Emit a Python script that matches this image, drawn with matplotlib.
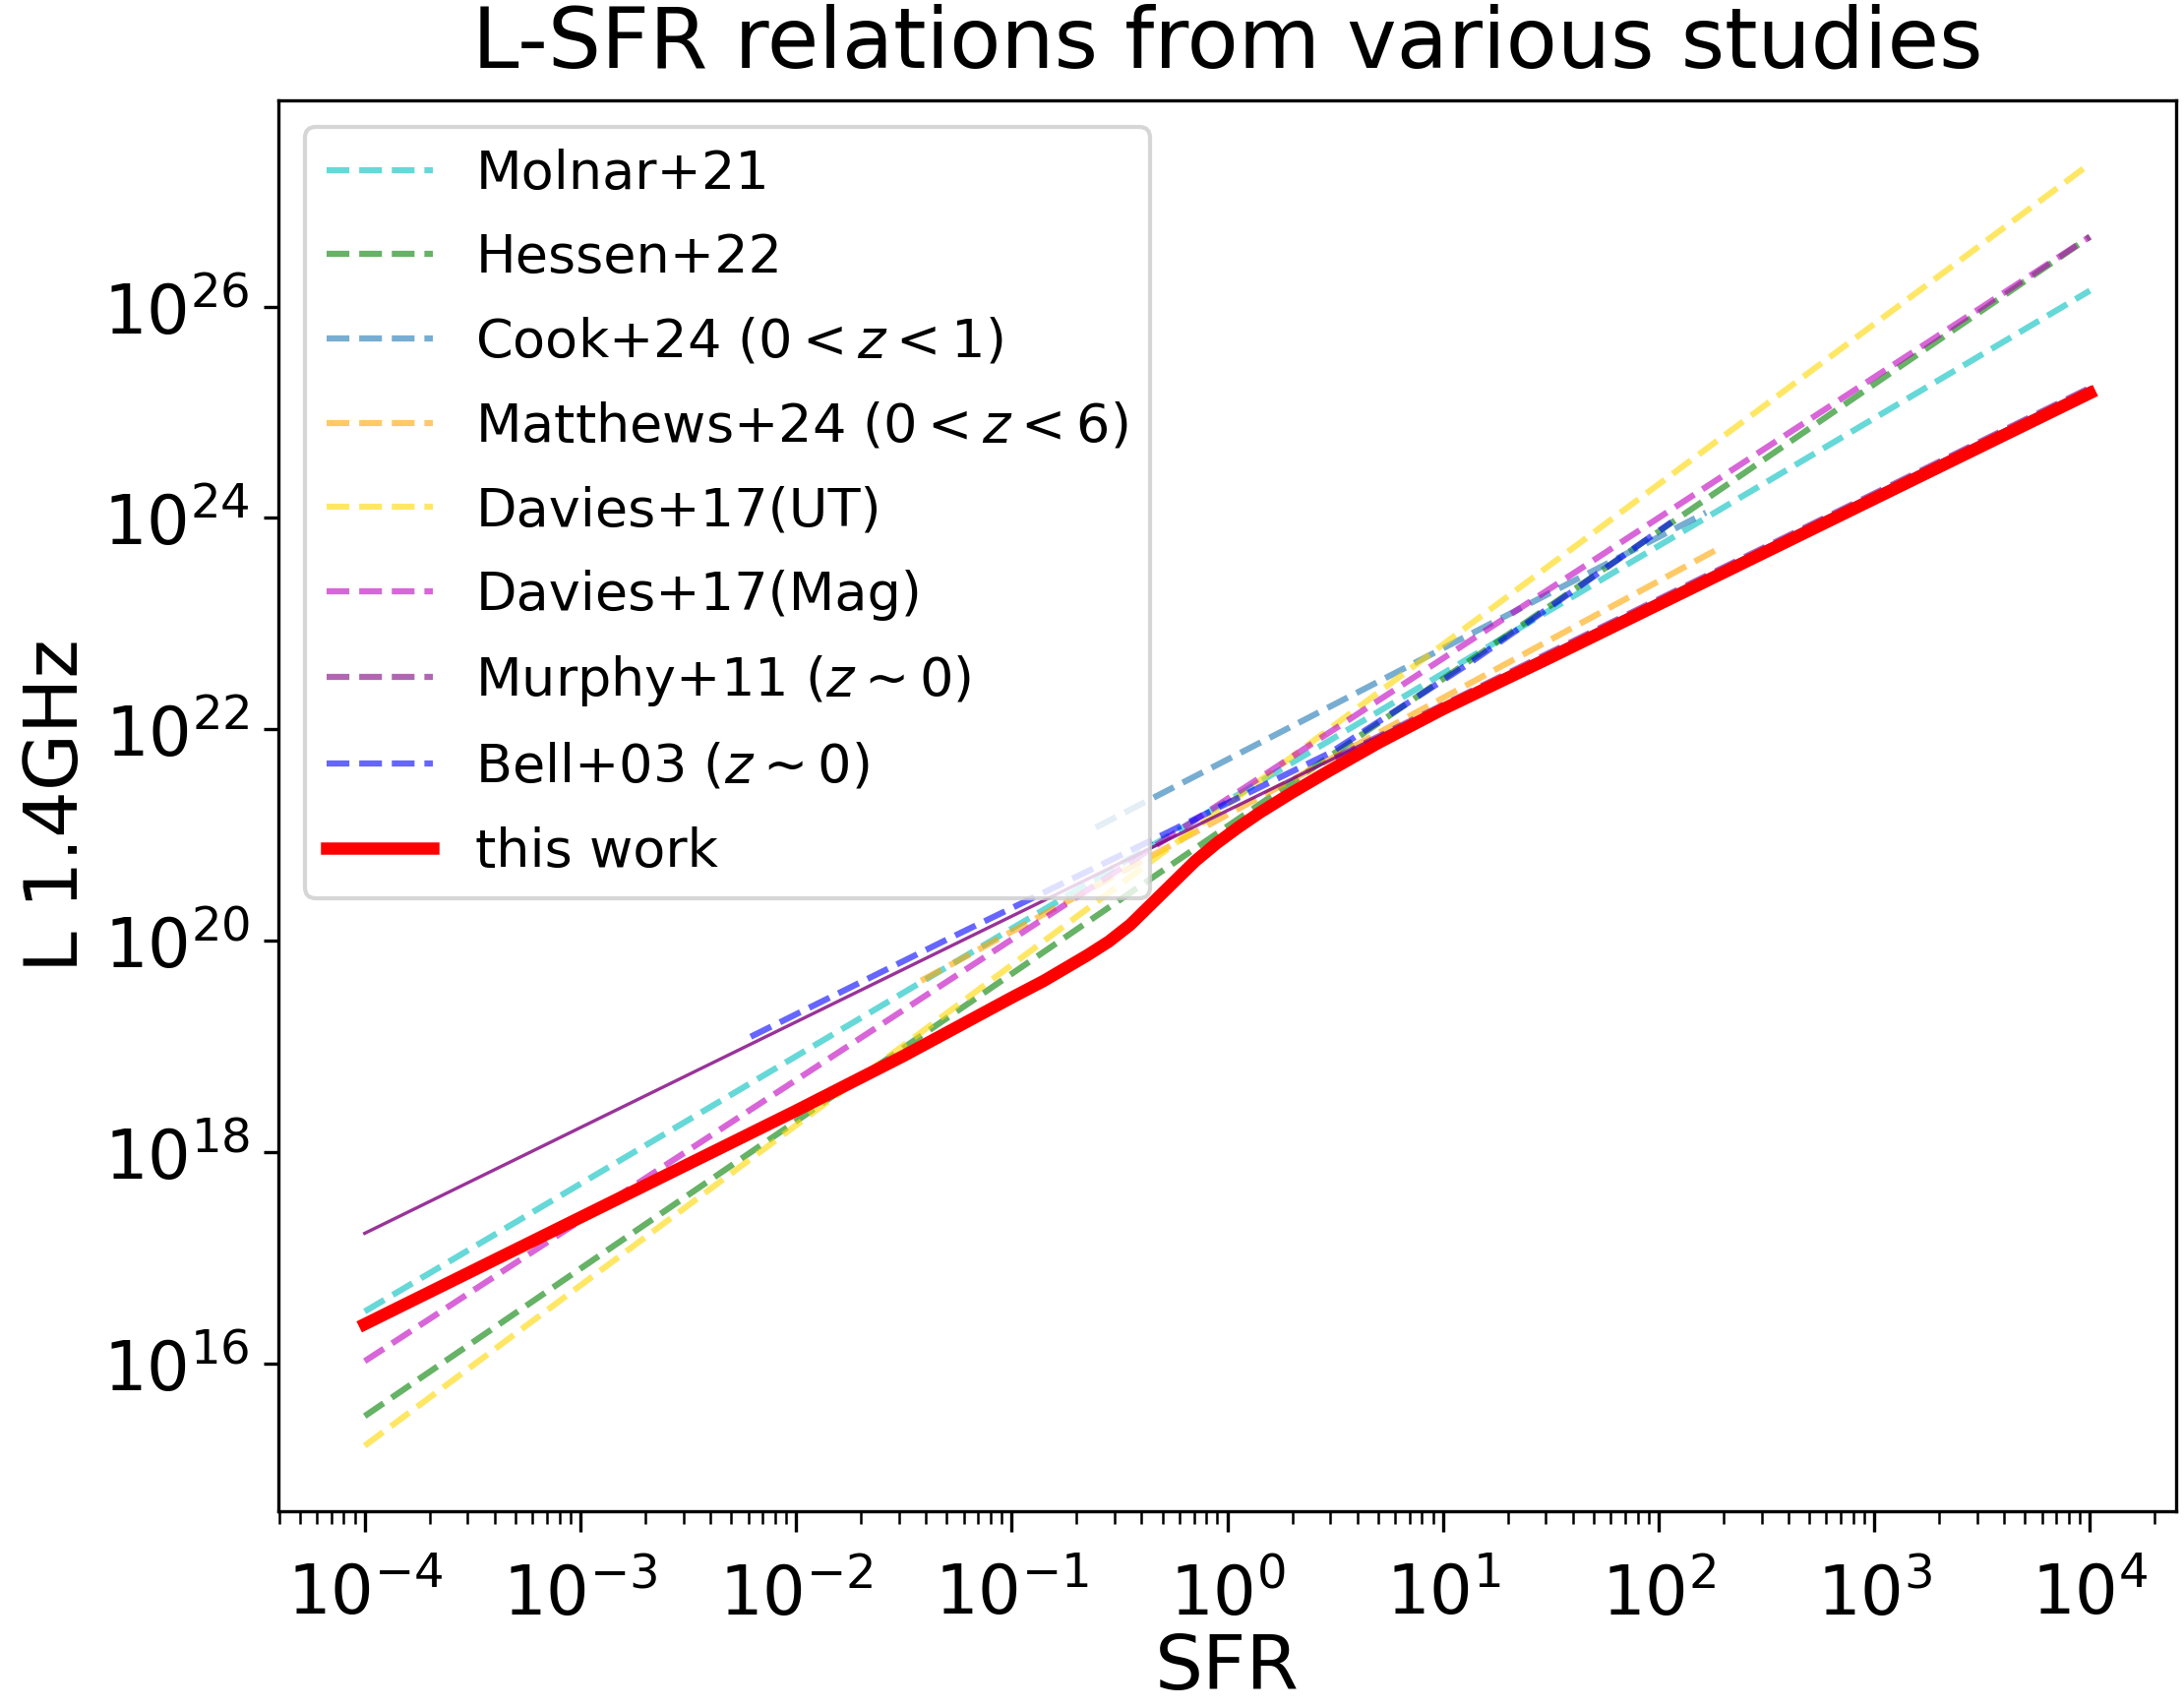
import numpy as np
import matplotlib
matplotlib.use("Agg")
import matplotlib.pyplot as plt

# log10 values: (log SFR, log L) pairs
molnar_logsfr = [-4.0, 4.0]
molnar_logl = [16.49, 26.15]
hessen_logsfr = [-4.0, 4.0]
hessen_logl = [15.50, 26.66]
cook_logsfr = [-0.61, 2.22]
cook_logl = [21.07, 24.05]
matthews_logsfr = [-1.42, 2.27]
matthews_logl = [19.62, 23.70]
davies_ut_logsfr = [-4.0, 4.0]
davies_ut_logl = [15.22, 27.35]
davies_mag_logsfr = [-4.0, 4.0]
davies_mag_logl = [16.02, 26.66]
murphy_logsfr = [0.5, 4.0]
murphy_logl = [21.73, 25.23]
bell_logsfr = [-2.21, -1.28, -0.29, 0.30, 0.48, 1.12, 2.06]
bell_logl = [19.09, 20.03, 21.01, 21.60, 21.78, 22.62, 23.96]
thin_logsfr = [-4.0, 4.0]
thin_logl = [17.23, 25.23]
this_logsfr = [-4.0, -3.0, -2.0, -1.5, -1.0, -0.85, -0.75, -0.65, -0.55, -0.45,
               -0.35, -0.25, -0.15, -0.05, 0.05, 0.15, 0.3, 0.45, 0.7, 1.0,
               1.5, 2.0, 3.0, 4.0]
this_logl = [16.37, 17.38, 18.39, 18.91, 19.46, 19.62, 19.74, 19.86, 19.99, 20.15,
             20.35, 20.55, 20.75, 20.92, 21.07, 21.21, 21.40, 21.58, 21.87, 22.19,
             22.68, 23.18, 24.18, 25.18]


def pw(v):
    return 10.0 ** np.asarray(v)


fig = plt.figure(figsize=(7.4, 5.7867), dpi=300)
ax = fig.add_axes([0.1275, 0.1152, 0.8689, 0.826])

A = 0.6
ax.plot(pw(molnar_logsfr), pw(molnar_logl), "--", color="c", alpha=A, label="Molnar+21")
ax.plot(pw(hessen_logsfr), pw(hessen_logl), "--", color="green", alpha=A, label="Hessen+22")
ax.plot(pw(cook_logsfr), pw(cook_logl), "--", color="tab:blue", alpha=A,
        label="Cook+24 ($0<z<1$)")
ax.plot(pw(matthews_logsfr), pw(matthews_logl), "--", color="orange", alpha=A,
        label="Matthews+24 ($0<z<6$)")
ax.plot(pw(davies_ut_logsfr), pw(davies_ut_logl), "--", color="gold", alpha=A,
        label="Davies+17(UT)")
ax.plot(pw(davies_mag_logsfr), pw(davies_mag_logl), "--", color="m", alpha=A,
        label="Davies+17(Mag)")
ax.plot(pw(murphy_logsfr), pw(murphy_logl), "--", color="purple", alpha=A,
        label=r"Murphy+11 ($z\sim0$)")
ax.plot(pw(thin_logsfr), pw(thin_logl), "-", color="purple", lw=0.8, alpha=0.8)
ax.plot(pw(bell_logsfr), pw(bell_logl), "--", color="blue", alpha=A,
        label=r"Bell+03 ($z\sim0$)")
ax.plot(pw(this_logsfr), pw(this_logl), "-", color="red", lw=3, label="this work")

ax.set_xscale("log")
ax.set_yscale("log")
ax.set_xlim(10 ** -4.4, 10 ** 4.4)
ax.set_ylim(10 ** 14.6, 10 ** 27.95)
ax.set_yticks([10.0 ** k for k in range(16, 27, 2)])
ax.tick_params(labelsize=16.5)
ax.tick_params(axis="x", which="major", length=5, pad=7.3)
ax.tick_params(axis="x", which="minor", length=3)
ax.set_xlabel("SFR", fontsize=18.5, labelpad=1)
ax.set_ylabel("L 1.4GHz", fontsize=18, labelpad=2.5)
ax.set_title("L-SFR relations from various studies", fontsize=20.5, pad=8)
ax.legend(loc="upper left", fontsize=13, labelspacing=0.62)

fig.savefig("out.png", dpi=300)
